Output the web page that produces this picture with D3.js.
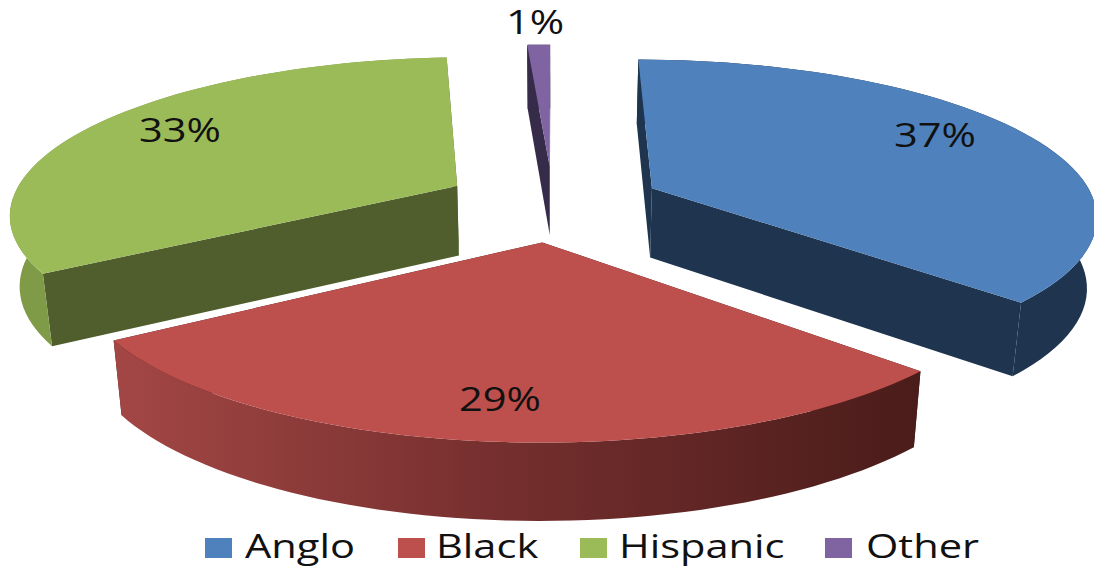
<!DOCTYPE html>
<html>
<head>
<script src="https://d3js.org/d3.v7.min.js"></script>
<style>
	body, html { margin: 0; padding: 0; background: #fff; }
	text { font-family: "Open Sans", sans-serif; fill: #111; }
</style>
</head>
<body>
<script>
	var categories = ["Anglo", "Black", "Hispanic", "Other"];
	var values = [37, 29, 33, 1];
	var valueLabels = ["37%", "29%", "33%", "1%"];

	var w = 1094, h = 567;
	var topColor = ["#4f81bd", "#bd4f4c", "#9bbb59", "#8064a2"];
	var radialColor = ["#1f344f", "#4a1c1a", "#4f5e2c", "#372b4a"];
	var rimColor = ["#1f344f", "url(#redRim)", "#7f9b48", "#372b4a"];
	var radius = [1.012, 1.01, 1.02, 1];
	var labelPos = [[935, 134], [500, 398], [180, 129], [535, 21]];
	var legendBox = d3.scaleOrdinal(categories, [205, 398, 580, 825]);
	var legendText = d3.scaleOrdinal(categories, [245, 436, 619, 866]);

	// perspective of the pie plane
	var cx = 553, cy = 203, a = 438, b = 152, k = 0.16;
	var explode = 0.25, depth = 70, shrink = 0.982;

	var svg = d3.select("body").append("svg")
		.attr("width", w)
		.attr("height", h);

	var grad = svg.append("defs").append("linearGradient")
		.attr("id", "redRim")
		.attr("gradientUnits", "userSpaceOnUse")
		.attr("x1", 112).attr("x2", 920).attr("y1", 0).attr("y2", 0);
	grad.append("stop").attr("offset", "0").attr("stop-color", "#a34745");
	grad.append("stop").attr("offset", "0.5").attr("stop-color", "#732e2d");
	grad.append("stop").attr("offset", "1").attr("stop-color", "#4a1c1a");

	var pie = d3.pie().sort(null);
	var arcs = pie(values);
	var line = d3.line();

	function project(x, v, low) {
		var d = 1 - k * v;
		var px = a * x / d, py = b * v / d;
		if (low) return [cx + px * shrink, cy + py + depth / Math.sqrt(d)];
		return [cx + px, cy + py];
	}

	function slicePoint(s, r, theta, low) {
		var mid = (s.startAngle + s.endAngle) / 2;
		var x = explode * Math.sin(mid) + r * Math.sin(theta);
		var v = -explode * Math.cos(mid) - r * Math.cos(theta);
		return project(x, v, low);
	}

	function rim(s, r, low) {
		var n = 60;
		return d3.range(n + 1).map(function (i) {
			return slicePoint(s, r, s.startAngle + (s.endAngle - s.startAngle) * i / n, low);
		});
	}

	var order = [3, 2, 0, 1];
	order.forEach(function (i) {
		var s = arcs[i];
		var g = svg.append("g");
		var top = rim(s, radius[i], false), low = rim(s, radius[i], true);
		// radial faces first, the rim and the top cover the ones facing away
		[s.startAngle, s.endAngle].forEach(function (t) {
			g.append("path")
				.attr("d", line([
					slicePoint(s, 0, t, false), slicePoint(s, radius[i], t, false),
					slicePoint(s, radius[i], t, true), slicePoint(s, 0, t, true)
				]) + "Z")
				.attr("fill", radialColor[i]);
		});
		g.append("path")
			.attr("d", line(top.concat(low.slice().reverse())) + "Z")
			.attr("fill", rimColor[i]);
		g.append("path")
			.attr("d", line([slicePoint(s, 0, s.startAngle, false)].concat(top)) + "Z")
			.attr("fill", topColor[i]);
	});

	svg.selectAll(".value")
		.data(valueLabels)
		.enter().append("text")
		.attr("class", "value")
		.attr("text-anchor", "middle")
		.attr("dominant-baseline", "central")
		.attr("font-size", 32)
		.attr("transform", function (d, i) {
			return "translate(" + labelPos[i][0] + "," + labelPos[i][1] + ") scale(1.3,1)";
		})
		.text(function (d) { return d; });

	svg.selectAll(".swatch")
		.data(categories)
		.enter().append("rect")
		.attr("class", "swatch")
		.attr("x", function (d) { return legendBox(d); })
		.attr("y", 538)
		.attr("width", 27)
		.attr("height", 20)
		.attr("fill", function (d, i) { return topColor[i]; });

	svg.selectAll(".legend")
		.data(categories)
		.enter().append("text")
		.attr("class", "legend")
		.attr("font-size", 32)
		.attr("transform", function (d) {
			return "translate(" + legendText(d) + ",558) scale(1.3,1)";
		})
		.text(function (d) { return d; });
</script>
</body>
</html>
